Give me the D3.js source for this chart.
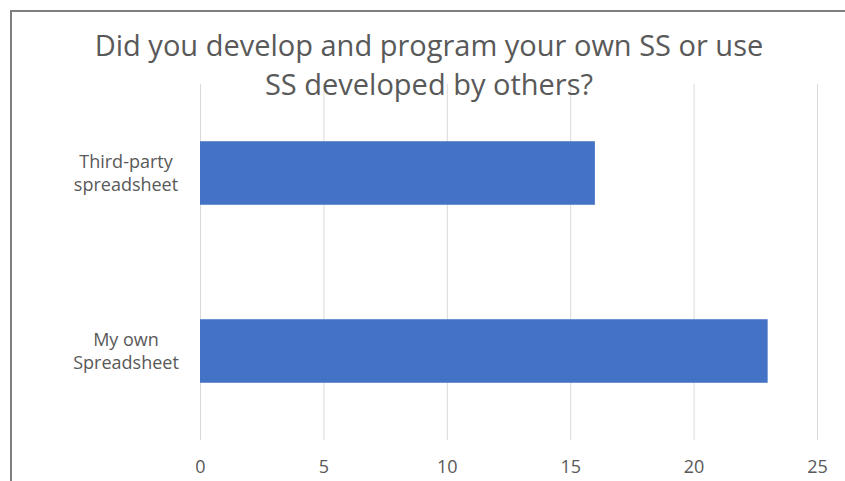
<!DOCTYPE html>
<html>
<head>
<meta charset="utf-8">
<script src="https://cdn.jsdelivr.net/npm/d3@7/dist/d3.min.js"></script>
<style>
  body { margin: 0; background: #fff; }
  svg { display: block; font-family: "Open Sans", sans-serif; }
</style>
</head>
<body>
<div id="chart"></div>
<script>
var categories = ["Third-party spreadsheet", "My own Spreadsheet"];
var labelLines = [["Third-party", "spreadsheet"], ["My own", "Spreadsheet"]];
var values = [16, 23];
var xTicks = [0, 5, 10, 15, 20, 25];
var titleLines = ["Did you develop and program your own SS or use", "SS developed by others?"];

var width = 845, height = 481;
var textColor = "#595959";

var svg = d3.select("#chart").append("svg")
    .attr("width", width).attr("height", height);

// chart frame (only top and left edges are visible in the crop)
svg.append("rect")
    .attr("x", 11).attr("y", 11)
    .attr("width", 900).attr("height", 600)
    .attr("fill", "none").attr("stroke", "#7f7f7f").attr("stroke-width", 2);

var x = d3.scaleLinear().domain([0, 25]).range([200, 817]);
var y = d3.scaleBand().domain(categories).range([84, 440])
    .paddingInner(0.643).paddingOuter(0.3215);

// gridlines
svg.append("g").selectAll("line").data(xTicks).enter().append("line")
    .attr("x1", function(d) { return x(d) + 0.5; })
    .attr("x2", function(d) { return x(d) + 0.5; })
    .attr("y1", 84).attr("y2", 440)
    .attr("stroke", "#d9d9d9").attr("stroke-width", 1);

// bars
svg.append("g").selectAll("rect").data(values).enter().append("rect")
    .attr("x", x(0))
    .attr("y", function(d, i) { return y(categories[i]); })
    .attr("width", function(d) { return x(d) - x(0); })
    .attr("height", y.bandwidth())
    .attr("fill", "#4472c4");

// x axis labels
var xAxis = d3.axisBottom(x).tickValues(xTicks).tickSize(0).tickPadding(0);
var xg = svg.append("g").attr("transform", "translate(0,460)").call(xAxis);
xg.select(".domain").remove();
xg.selectAll("text")
    .attr("fill", textColor)
    .style("font-size", "18px")
    .style("font-family", "'Open Sans', sans-serif");

// category labels
var cat = svg.append("g").selectAll("text").data(categories).enter().append("text")
    .attr("x", 126)
    .attr("y", function(d) { return y(d) + y.bandwidth() / 2 - 5; })
    .attr("text-anchor", "middle")
    .attr("fill", textColor)
    .style("font-size", "18px");
cat.each(function(d, i) {
  var t = d3.select(this);
  labelLines[i].forEach(function(line, j) {
    t.append("tspan").attr("x", 126).attr("dy", j === 0 ? 0 : 23).text(line);
  });
});

// title
svg.append("g").selectAll("text").data(titleLines).enter().append("text")
    .attr("x", 429)
    .attr("y", function(d, i) { return 56 + i * 39; })
    .attr("text-anchor", "middle")
    .attr("fill", textColor)
    .style("font-size", "29px")
    .text(function(d) { return d; });
</script>
</body>
</html>
